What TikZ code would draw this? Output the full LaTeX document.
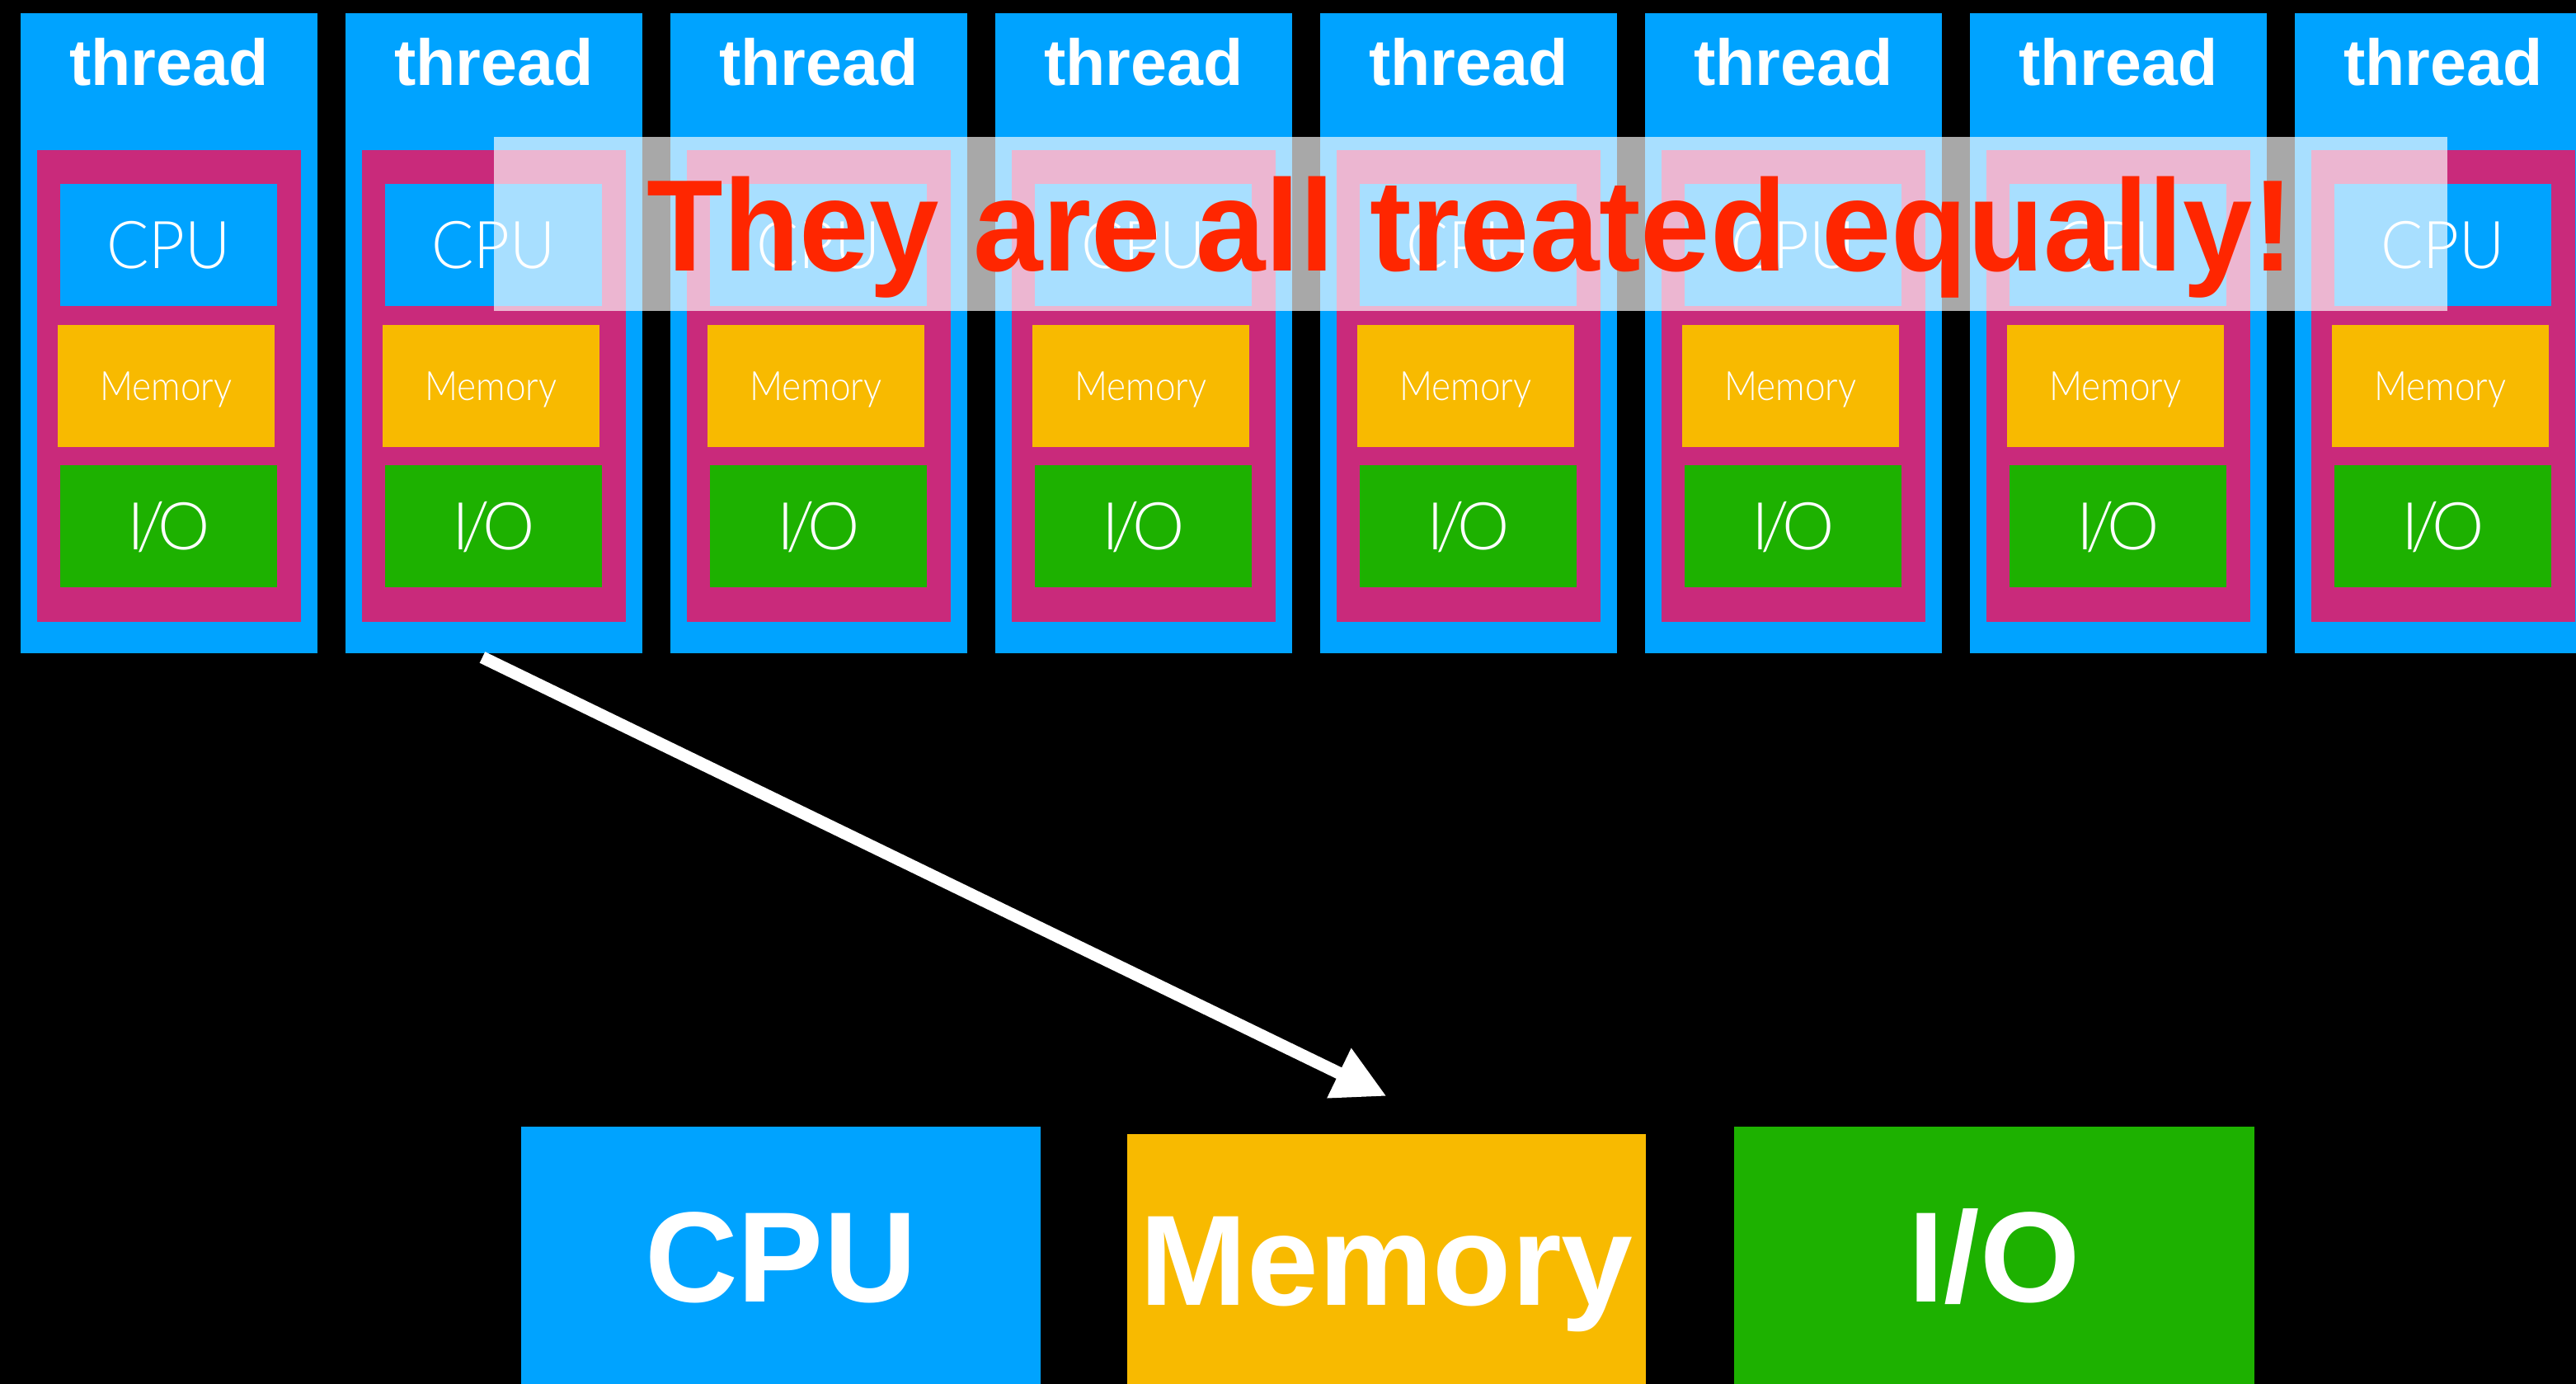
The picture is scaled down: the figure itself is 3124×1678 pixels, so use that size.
\documentclass[tikz,border=0pt]{standalone}
\usepackage{fontspec}
\usepackage{graphicx}
\setmainfont{Liberation Sans}
\newfontfamily\thinfont{Lato Light}
\usetikzlibrary{arrows.meta}
\definecolor{cpublue}{HTML}{00A3FF}
\definecolor{threadmag}{HTML}{C92A7B}
\definecolor{memyellow}{HTML}{F8BA00}
\definecolor{iogreen}{HTML}{1DB100}
\definecolor{alarmred}{HTML}{FF2600}
\begin{document}
\begin{tikzpicture}[x=1pt,y=-1pt,
  blk/.style={inner sep=0pt,outer sep=0pt,anchor=north west},
  smalltxt/.style={font=\thinfont\fontsize{80}{80}\selectfont,text=white,text height=57pt,text depth=0pt},
  memtxt/.style={font=\thinfont\fontsize{49}{49}\selectfont,text=white,text height=35pt,text depth=0pt},
  bigtxt/.style={font=\bfseries\fontsize{156}{156}\selectfont,text=white,text height=112pt,text depth=0pt}]
\useasboundingbox (0,0) rectangle (3124,1678);
\fill[black] (0,0) rectangle (3124,1678);
% the eight threads
\foreach \n in {1,...,8}{
  \pgfmathsetmacro{\xo}{25+394*(\n-1)}
  \node[blk,fill=cpublue,minimum width=360pt,minimum height=776pt] (th\n) at (\xo,16) {};
  \node[font=\bfseries\fontsize{79}{79}\selectfont,text=white,anchor=base] (lb\n) at ([yshift=-87pt]th\n.north) {thread};
  \node[blk,fill=threadmag,minimum width=320pt,minimum height=572pt] (mg\n) at ([shift={(20pt,-166pt)}]th\n.north west) {};
  \node[blk,fill=cpublue,minimum width=263pt,minimum height=148pt,smalltxt] (cp\n) at ([shift={(48pt,-207pt)}]th\n.north west) {\scalebox{0.95}[1]{CPU}};
  \node[blk,fill=memyellow,minimum width=263pt,minimum height=148pt,memtxt] (me\n) at ([shift={(45pt,-378pt)}]th\n.north west) {\scalebox{0.9}[1]{Memory}};
  \node[blk,fill=iogreen,minimum width=263pt,minimum height=148pt,smalltxt] (io\n) at ([shift={(48pt,-548pt)}]th\n.north west) {I\kern-9pt/\kern-9pt O};
}
\node[fill=white,fill opacity=0.66,text opacity=1,inner sep=0pt,minimum width=2369pt,minimum height=211pt,
  text=alarmred,font=\bfseries\fontsize{158}{158}\selectfont,text height=113pt,text depth=0pt] (banner) at (1783.5,271.5)
  {\scalebox{0.96}[1]{They are all treated equally!}};
% shared resources
\node[blk,fill=cpublue,minimum width=630pt,minimum height=312pt,bigtxt] (cpu) at (632,1366) {CPU};
\node[blk,fill=memyellow,minimum width=629pt,minimum height=303pt,bigtxt] (mem) at (1367,1375) {Memory};
\node[blk,fill=iogreen,minimum width=631pt,minimum height=312pt,bigtxt] (io) at (2103,1366) {I/O};
\draw[white,line width=15pt,-{Triangle[length=64pt,width=63pt]}] ([shift={(-14pt,-5pt)}]th2.south) -- ([yshift=46pt]mem.north);
\end{tikzpicture}
\end{document}
